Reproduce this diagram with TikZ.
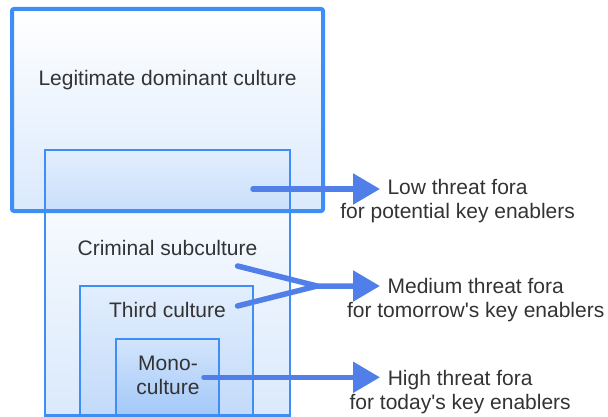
\documentclass[tikz,border=0pt]{standalone}
\usepackage{fontspec}
\setmainfont{Liberation Sans}
\usetikzlibrary{arrows.meta,backgrounds}

\definecolor{edgeblue}{HTML}{3D8EF5}
\definecolor{arrowblue}{HTML}{507FEA}
\definecolor{inktext}{HTML}{333333}
\definecolor{legitlow}{HTML}{DAE9FD}
\definecolor{crimlow}{HTML}{DAE9FC}
\definecolor{overlaptop}{HTML}{E2EEFE}
\definecolor{overlaplow}{HTML}{C9DFFB}
\definecolor{thirdtop}{HTML}{E2EEFD}
\definecolor{thirdlow}{HTML}{C2DAFA}
\definecolor{monotop}{HTML}{D3E5FC}
\definecolor{monolow}{HTML}{A3C8F8}

\tikzset{
  culturebox/.style={draw=edgeblue, rectangle, inner sep=0pt, outer sep=0pt},
  boxlabel/.style={font=\fontsize{21}{24}\selectfont, text=inktext, inner sep=0pt, align=center},
  shaft/.style={draw=arrowblue, line width=5.5pt, line cap=round, line join=round},
  pointer/.style={shaft, -{Triangle[length=27pt 0 0, width=30pt 0 0]}},
}

\begin{document}
\begin{tikzpicture}[x=1pt, y=-1pt]
  \useasboundingbox (0,0) rectangle (608,417);

  % nested culture boxes (borders only; fills go on the background layer)
  \node[culturebox, line width=4pt, rounded corners=2pt, minimum width=311pt, minimum height=202pt] (legit) at (167.5,110) {};
  \node[culturebox, line width=2.6pt, minimum width=245pt, minimum height=265.5pt] (crim) at (167.5,282.75) {};
  \node[culturebox, line width=2pt, minimum width=173pt, minimum height=129.5pt] (third) at (166.5,350.75) {};
  \node[culturebox, line width=1.6pt, minimum width=103pt, minimum height=76.5pt] (mono) at (167.5,377.25) {};

  \begin{pgfonlayer}{background}
    \shade[top color=white, bottom color=legitlow, rounded corners=2pt] (legit.north west) rectangle (legit.south east);
    \shade[top color=white, bottom color=crimlow] (crim.north west) rectangle (crim.south east);
    % the part of the criminal subculture lying inside the dominant culture
    \shade[top color=overlaptop, bottom color=overlaplow] (crim.north west) rectangle (crim.east |- legit.south);
    \shade[top color=thirdtop, bottom color=thirdlow] (third.north west) rectangle (third.south east);
    \shade[top color=monotop, bottom color=monolow] (mono.north west) rectangle (mono.south east);
  \end{pgfonlayer}

  % labels inside the boxes
  \node[boxlabel, anchor=base] (legittext) at (167.5,85.7) {Legitimate dominant culture};
  \node[boxlabel, anchor=base] (crimtext) at (167.5,255.7) {Criminal subculture};
  \node[boxlabel, anchor=base] (thirdtext) at (167.5,317.7) {Third culture};
  \node[boxlabel] (monotext) at (168,375.8) {Mono-\\culture};

  % threat fora
  \node[boxlabel] (low) at (457.6,201.5) {Low threat fora\\for potential key enablers};
  \node[boxlabel] (medium) at (475.7,299.8) {Medium threat fora\\for tomorrow\textquotesingle s key enablers};
  \node[boxlabel] (high) at (460.2,392.5) {High threat fora\\for today\textquotesingle s key enablers};

  % arrow end points
  \coordinate (lowstart) at (253,189);
  \coordinate (lowtip) at (380,189);
  \coordinate (crimstart) at (237.5,266);
  \coordinate (thirdstart) at (237.5,306);
  \coordinate (medjoin) at (317,286);
  \coordinate (medtip) at (380,286);
  \coordinate (monostart) at (204,377.3);
  \coordinate (hightip) at (380,377.3);

  \draw[pointer] (lowstart) -- (lowtip);
  \draw[shaft] (thirdstart) -- (medjoin);
  \draw[pointer] (crimstart) -- (medjoin) -- (medtip);
  \draw[pointer] (monostart) -- (hightip);
\end{tikzpicture}
\end{document}
